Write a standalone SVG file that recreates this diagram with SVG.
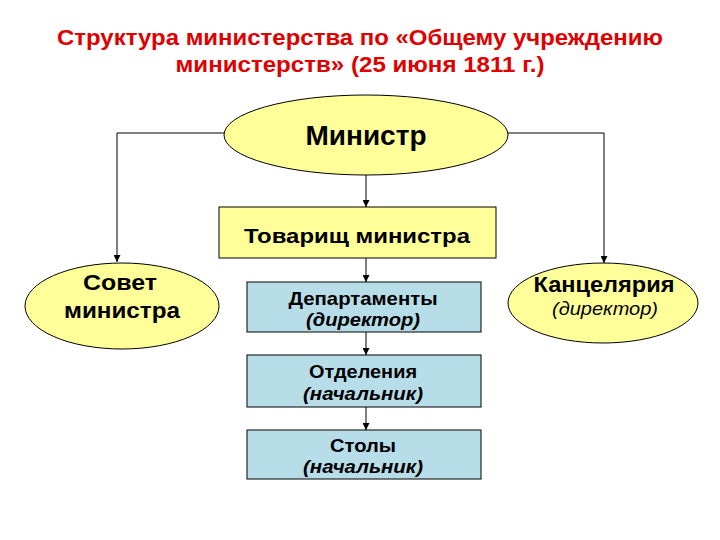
<svg xmlns="http://www.w3.org/2000/svg" width="720" height="540" viewBox="0 0 720 540">
<defs>
<marker id="arr" viewBox="0 0 10 10" refX="10" refY="5" markerWidth="7" markerHeight="7" markerUnits="userSpaceOnUse" orient="auto"><path d="M0,0 L10,5 L0,10 z" fill="#000"/></marker>
<style>
.t{font-family:"Liberation Sans",Arial,sans-serif;font-weight:bold;text-anchor:middle;fill:#000}
.title{fill:#e00000;font-size:22px}
.y{fill:#ffff99;stroke:#000;stroke-width:1}
.b{fill:#b7dde8;stroke:#000;stroke-width:1}
.c{fill:none;stroke:#000;stroke-width:1}
.i{font-style:italic}
.n{font-weight:normal}
</style>
</defs>
<rect width="720" height="540" fill="#fff"/>
<g id="title">
<text class="t title" x="360" y="45" textLength="606" lengthAdjust="spacingAndGlyphs">Структура министерства по «Общему учреждению</text>
<text class="t title" x="360" y="72" textLength="369" lengthAdjust="spacingAndGlyphs">министерств» (25 июня 1811 г.)</text>
</g>
<g id="connectors">
<polyline class="c" points="224,133 117,133 117,262" marker-end="url(#arr)"/>
<polyline class="c" points="508,133 604,133 604,263" marker-end="url(#arr)"/>
<line class="c" x1="366" y1="175" x2="366" y2="207" marker-end="url(#arr)"/>
<line class="c" x1="366" y1="258" x2="366" y2="282" marker-end="url(#arr)"/>
<line class="c" x1="366" y1="332" x2="366" y2="355" marker-end="url(#arr)"/>
<line class="c" x1="366" y1="407" x2="366" y2="430" marker-end="url(#arr)"/>
</g>
<g id="minister">
<ellipse class="y" cx="366" cy="135" rx="142" ry="40"/>
<text class="t" x="366" y="145" font-size="28" textLength="121" lengthAdjust="spacingAndGlyphs">Министр</text>
</g>
<g id="deputy">
<rect class="y" x="219" y="207" width="277" height="51"/>
<text class="t" x="357" y="243" font-size="21" textLength="226" lengthAdjust="spacingAndGlyphs">Товарищ министра</text>
</g>
<g id="council">
<ellipse class="y" cx="122" cy="306" rx="97" ry="43"/>
<text class="t" x="120" y="290" font-size="22" textLength="74" lengthAdjust="spacingAndGlyphs">Совет</text>
<text class="t" x="122" y="318" font-size="22" textLength="116" lengthAdjust="spacingAndGlyphs">министра</text>
</g>
<g id="chancellery">
<ellipse class="y" cx="603" cy="303" rx="95" ry="40"/>
<text class="t" x="604" y="292" font-size="22" textLength="141" lengthAdjust="spacingAndGlyphs">Канцелярия</text>
<text class="t i n" x="605" y="315" font-size="18" textLength="106" lengthAdjust="spacingAndGlyphs">(директор)</text>
</g>
<g id="departments">
<rect class="b" x="247" y="282" width="234" height="50"/>
<text class="t" x="363" y="305" font-size="19" textLength="149" lengthAdjust="spacingAndGlyphs">Департаменты</text>
<text class="t i" x="363" y="326" font-size="19" textLength="114" lengthAdjust="spacingAndGlyphs">(директор)</text>
</g>
<g id="divisions">
<rect class="b" x="247" y="355" width="234" height="52"/>
<text class="t" x="363" y="378" font-size="19" textLength="108" lengthAdjust="spacingAndGlyphs">Отделения</text>
<text class="t i" x="363" y="400" font-size="19" textLength="120" lengthAdjust="spacingAndGlyphs">(начальник)</text>
</g>
<g id="desks">
<rect class="b" x="247" y="430" width="234" height="49"/>
<text class="t" x="363" y="452" font-size="19" textLength="66" lengthAdjust="spacingAndGlyphs">Столы</text>
<text class="t i" x="363" y="473" font-size="19" textLength="120" lengthAdjust="spacingAndGlyphs">(начальник)</text>
</g>
</svg>
